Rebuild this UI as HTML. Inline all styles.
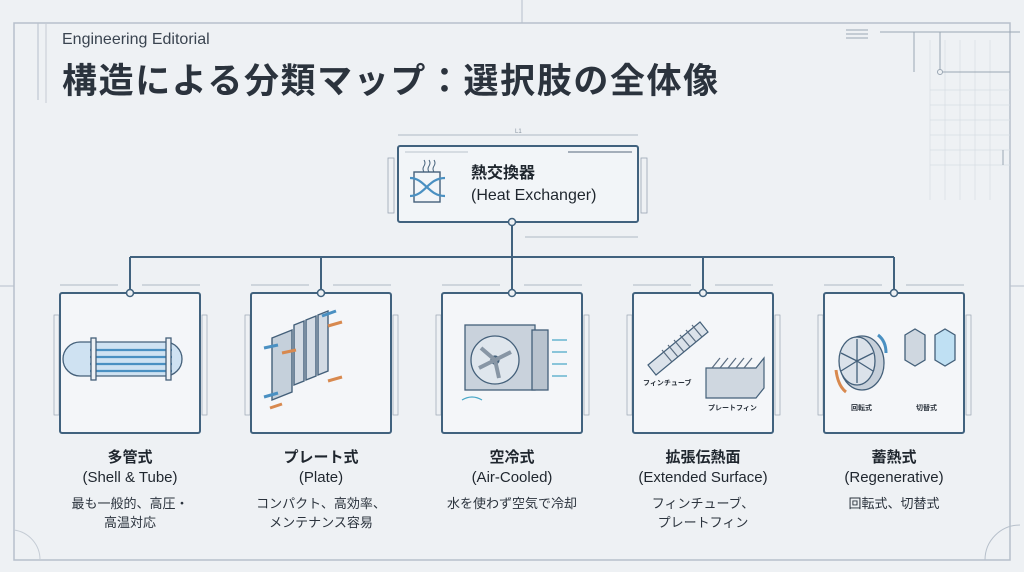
<!DOCTYPE html>
<html><head><meta charset="utf-8"><style>
html,body{margin:0;padding:0;background:#eef1f4;}
svg{display:block}
text{font-family:"Liberation Sans","Noto Sans CJK JP",sans-serif;}
</style></head><body>
<svg width="1024" height="572" viewBox="0 0 1024 572" xmlns="http://www.w3.org/2000/svg">
<rect width="1024" height="572" fill="#eef1f4"/>
<rect x="14" y="23" width="996" height="537" fill="none" stroke="#b7c0cb" stroke-width="1.5"/>
<line x1="522" y1="0" x2="522" y2="23" stroke="#b7c0cb"/>
<line x1="38" y1="23" x2="38" y2="100" stroke="#b7c0cb"/>
<line x1="46" y1="23" x2="46" y2="103" stroke="#c5ccd5"/>
<line x1="0" y1="286" x2="14" y2="286" stroke="#b7c0cb"/>
<line x1="1010" y1="286" x2="1024" y2="286" stroke="#b7c0cb"/>
<path d="M985 560 A35 35 0 0 1 1020 525" fill="none" stroke="#b7c0cb"/>
<path d="M40 560 A30 30 0 0 0 14 530" fill="none" stroke="#c5ccd5"/>
<g stroke="#d6dce3" stroke-width="0.7">
<line x1="930" y1="40" x2="930" y2="200"/><line x1="945" y1="40" x2="945" y2="200"/><line x1="960" y1="40" x2="960" y2="200"/><line x1="975" y1="40" x2="975" y2="200"/><line x1="990" y1="40" x2="990" y2="200"/>
<line x1="930" y1="90" x2="1010" y2="90"/><line x1="930" y1="105" x2="1010" y2="105"/><line x1="930" y1="120" x2="1010" y2="120"/><line x1="930" y1="135" x2="1010" y2="135"/><line x1="930" y1="150" x2="1010" y2="150"/><line x1="930" y1="165" x2="1010" y2="165"/>
</g>
<g stroke="#9aa6b3" stroke-width="1" fill="none">
<line x1="880" y1="32" x2="1020" y2="32"/><line x1="940" y1="72" x2="1010" y2="72"/>
<line x1="940" y1="32" x2="940" y2="72"/><line x1="914" y1="32" x2="914" y2="72"/>
<circle cx="940" cy="72" r="2.5" fill="#eef1f4"/>
<line x1="846" y1="30" x2="868" y2="30"/><line x1="846" y1="34" x2="868" y2="34"/><line x1="846" y1="38" x2="868" y2="38"/>
<line x1="1003" y1="150" x2="1003" y2="165"/>
</g>
<text x="62" y="44" font-size="16" fill="#3a4450">Engineering Editorial</text>
<text x="62" y="93" font-size="35" font-weight="bold" fill="#2b333d" letter-spacing="1.6">構造による分類マップ：選択肢の全体像</text>
<g stroke="#9aa6b3" stroke-width="0.8" fill="none">
<line x1="398" y1="135" x2="638" y2="135"/>
<line x1="525" y1="237" x2="638" y2="237"/>
<rect x="388" y="158" width="6" height="55"/><rect x="641" y="158" width="6" height="55"/>
</g>
<text x="515" y="133" font-size="6" fill="#8894a1">L1</text>
<rect x="398" y="146" width="240" height="76" rx="2" fill="#f2f5f8" stroke="#41627e" stroke-width="2"/>
<line x1="568" y1="152" x2="632" y2="152" stroke="#8a97a5" stroke-width="1.5"/>
<line x1="405" y1="152" x2="468" y2="152" stroke="#a7b2be" stroke-width="0.7"/>
<g fill="none" stroke="#44607a" stroke-width="1.4">
<rect x="414" y="172" width="26" height="30"/>
<path d="M410 178 C425 178 428 196 445 196" stroke="#4a90c2" stroke-width="2.2"/>
<path d="M410 196 C425 196 428 178 445 178" stroke="#4a90c2" stroke-width="2.2"/>
<path d="M424 160 q2 3 0 6 q-2 3 0 6 M429 160 q2 3 0 6 q-2 3 0 6 M434 160 q2 3 0 6 q-2 3 0 6" stroke-width="1"/>
</g>
<text x="471" y="178" font-size="16" font-weight="bold" fill="#1f262e">熱交換器</text>
<text x="471" y="200" font-size="16" fill="#1f262e">(Heat Exchanger)</text>
<g stroke="#41627e" stroke-width="2" fill="none">
<line x1="512" y1="222" x2="512" y2="293"/>
<line x1="130" y1="257" x2="894" y2="257"/>
<line x1="130" y1="257" x2="130" y2="293"/><line x1="321" y1="257" x2="321" y2="293"/><line x1="703" y1="257" x2="703" y2="293"/><line x1="894" y1="257" x2="894" y2="293"/>
</g>
<circle cx="512" cy="222" r="3.5" fill="#eef1f4" stroke="#41627e" stroke-width="1.5"/>
<g stroke="#9aa6b3" stroke-width="0.7" fill="none">
<line x1="60" y1="285" x2="118" y2="285"/><line x1="142" y1="285" x2="200" y2="285"/>
<line x1="251" y1="285" x2="309" y2="285"/><line x1="333" y1="285" x2="391" y2="285"/>
<line x1="442" y1="285" x2="500" y2="285"/><line x1="524" y1="285" x2="582" y2="285"/>
<line x1="633" y1="285" x2="691" y2="285"/><line x1="715" y1="285" x2="773" y2="285"/>
<line x1="824" y1="285" x2="882" y2="285"/><line x1="906" y1="285" x2="964" y2="285"/>
<rect x="54" y="315" width="5" height="100"/><rect x="202" y="315" width="5" height="100"/>
<rect x="245" y="315" width="5" height="100"/><rect x="393" y="315" width="5" height="100"/>
<rect x="436" y="315" width="5" height="100"/><rect x="584" y="315" width="5" height="100"/>
<rect x="627" y="315" width="5" height="100"/><rect x="775" y="315" width="5" height="100"/>
<rect x="818" y="315" width="5" height="100"/><rect x="966" y="315" width="5" height="100"/>
</g>
<g fill="#f4f6f9" stroke="#41627e" stroke-width="2">
<rect x="60" y="293" width="140" height="140" rx="2"/>
<rect x="251" y="293" width="140" height="140" rx="2"/>
<rect x="442" y="293" width="140" height="140" rx="2"/>
<rect x="633" y="293" width="140" height="140" rx="2"/>
<rect x="824" y="293" width="140" height="140" rx="2"/>
</g>
<g fill="#eef1f4" stroke="#41627e" stroke-width="1.5">
<circle cx="130" cy="293" r="3.5"/><circle cx="321" cy="293" r="3.5"/><circle cx="512" cy="293" r="3.5"/><circle cx="703" cy="293" r="3.5"/><circle cx="894" cy="293" r="3.5"/>
</g>
<!-- shell & tube -->
<g stroke="#44607a" stroke-width="1.3">
<path d="M80 342 h85 a12 12 0 0 1 0 34 h-85 a12 12 0 0 1 0 -34z" fill="#cfe2f2"/>
<g stroke="#4a90c2" stroke-width="2.2"><line x1="90" y1="350" x2="172" y2="350"/><line x1="90" y1="357" x2="172" y2="357"/><line x1="90" y1="364" x2="172" y2="364"/><line x1="90" y1="371" x2="172" y2="371"/></g>
<rect x="91" y="338" width="5" height="42" fill="#eef1f4"/><rect x="166" y="338" width="5" height="42" fill="#eef1f4"/>
</g>
<!-- plate -->
<g stroke="#44607a" stroke-width="1.4" fill="#d3dbe4">
<path d="M318 315 l10 -4 v60 l-10 4z"/>
<path d="M306 320 l10 -4 v60 l-10 4z"/>
<path d="M294 325 l10 -4 v60 l-10 4z"/>
<path d="M272 338 l20 -8 v62 l-20 8z" fill="#c5d0db"/>
</g>
<g stroke="#4a90c2" stroke-width="3"><line x1="278" y1="345" x2="264" y2="348"/><line x1="278" y1="393" x2="264" y2="397"/><line x1="322" y1="316" x2="336" y2="311"/></g>
<g stroke="#d8894f" stroke-width="3"><line x1="282" y1="404" x2="270" y2="408"/><line x1="328" y1="326" x2="342" y2="322"/><line x1="328" y1="381" x2="342" y2="377"/><line x1="282" y1="353" x2="296" y2="350"/></g>
<!-- air cooled -->
<g stroke="#44607a" stroke-width="1.3">
<rect x="465" y="325" width="70" height="65" fill="#c9d2dc"/>
<circle cx="495" cy="360" r="24" fill="#dfe6ed"/>
<circle cx="495" cy="360" r="4" fill="#44607a"/>
<path d="M495 360 l-14 -12 M495 360 l16 -8 M495 360 l4 18 M495 360 l-16 8" stroke-width="4" stroke="#8896a5"/>
<rect x="532" y="330" width="16" height="60" fill="#b9c3ce"/>
</g>
<g stroke="#4aa8c8" stroke-width="1.2" fill="none"><path d="M552 340 h15 M552 352 h15 M552 364 h15 M552 376 h15 M462 400 q10 -6 20 0"/></g>
<!-- extended -->
<g stroke="#44607a" stroke-width="1.2">
<path d="M648 365 L700 322 L708 332 L656 375 Z" fill="#dbe2ea"/>
<g stroke="#5a6c80"><line x1="662" y1="350" x2="672" y2="362"/><line x1="668" y1="345" x2="678" y2="357"/><line x1="674" y1="340" x2="684" y2="352"/><line x1="680" y1="335" x2="690" y2="347"/><line x1="686" y1="330" x2="696" y2="342"/><line x1="692" y1="325" x2="702" y2="337"/></g>
<path d="M706 368 h50 l8 -10 v30 l-8 10 h-50 z" fill="#cfd7e0"/>
<g stroke="#5a6c80"><line x1="712" y1="368" x2="720" y2="358"/><line x1="720" y1="368" x2="728" y2="358"/><line x1="728" y1="368" x2="736" y2="358"/><line x1="736" y1="368" x2="744" y2="358"/><line x1="744" y1="368" x2="752" y2="358"/></g>
</g>
<text x="643" y="385" font-size="7" font-weight="bold" fill="#2b333d">フィンチューブ</text>
<text x="708" y="410" font-size="7" font-weight="bold" fill="#2b333d">プレートフィン</text>
<!-- regenerative -->
<g stroke="#44607a" stroke-width="1.3">
<ellipse cx="862" cy="363" rx="22" ry="27" fill="#c7d0da"/>
<ellipse cx="857" cy="361" rx="18" ry="24" fill="#dbe2ea"/>
<path d="M857 361 v-22 M857 361 l16 -8 M857 361 l16 10 M857 361 v22 M857 361 l-16 10 M857 361 l-16 -8"/>
<path d="M905 335 l10 -6 l10 6 v25 l-10 6 l-10 -6z" fill="#cfd7e0"/>
<path d="M935 335 l10 -6 l10 6 v25 l-10 6 l-10 -6z" fill="#bfe0f3"/>
</g>
<path d="M878 335 q8 6 8 18" stroke="#4a90c2" stroke-width="3" fill="none"/>
<path d="M836 370 q2 16 10 22" stroke="#d8894f" stroke-width="3" fill="none"/>
<text x="851" y="410" font-size="7" font-weight="bold" fill="#2b333d">回転式</text>
<text x="916" y="410" font-size="7" font-weight="bold" fill="#2b333d">切替式</text>
<g font-size="15" fill="#1f262e" text-anchor="middle">
<text x="130" y="462" font-weight="bold">多管式</text>
<text x="130" y="482">(Shell &amp; Tube)</text>
<text x="321" y="462" font-weight="bold">プレート式</text>
<text x="321" y="482">(Plate)</text>
<text x="512" y="462" font-weight="bold">空冷式</text>
<text x="512" y="482">(Air-Cooled)</text>
<text x="703" y="462" font-weight="bold">拡張伝熱面</text>
<text x="703" y="482">(Extended Surface)</text>
<text x="894" y="462" font-weight="bold">蓄熱式</text>
<text x="894" y="482">(Regenerative)</text>
</g>
<g font-size="13" fill="#2b333d" text-anchor="middle">
<text x="130" y="508">最も一般的、高圧・</text>
<text x="130" y="527">高温対応</text>
<text x="321" y="508">コンパクト、高効率、</text>
<text x="321" y="527">メンテナンス容易</text>
<text x="512" y="508">水を使わず空気で冷却</text>
<text x="703" y="508">フィンチューブ、</text>
<text x="703" y="527">プレートフィン</text>
<text x="894" y="508">回転式、切替式</text>
</g>
</svg>
</body></html>
